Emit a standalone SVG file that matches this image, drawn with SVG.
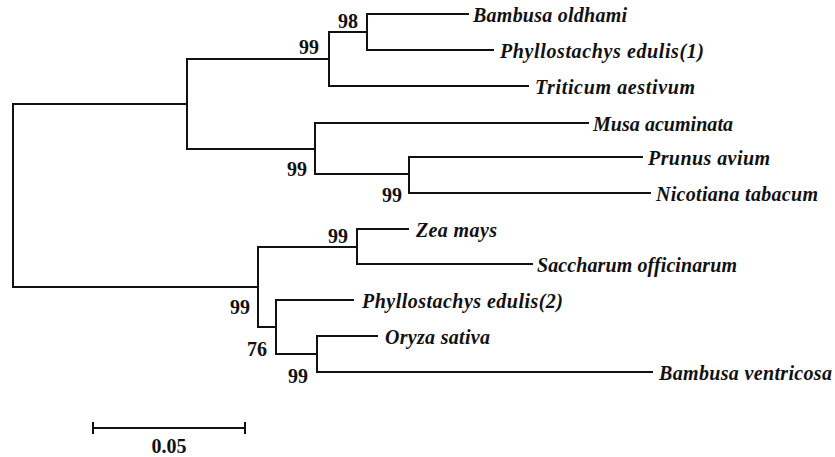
<svg xmlns="http://www.w3.org/2000/svg" width="835" height="457" viewBox="0 0 835 457">
<style>
.e{fill:none;stroke:#111;stroke-width:2;stroke-linecap:square}
.t{font-family:"Liberation Serif","DejaVu Serif",serif;font-style:italic;font-weight:bold;font-size:20px;fill:#111}
.b{font-family:"Liberation Serif","DejaVu Serif",serif;font-weight:bold;font-size:20px;fill:#111;text-anchor:end}
.s{font-family:"Liberation Serif","DejaVu Serif",serif;font-weight:bold;font-size:20px;fill:#111;text-anchor:middle}
</style>
<rect width="835" height="457" fill="#fff"/>
<g id="connectors" class="e">
<path d="M13,104V287"/>
<path d="M13,104H187M187,59V149"/>
<path d="M187,59H329M329,32V86"/>
<path d="M329,32H367M367,14V50"/>
<path d="M367,14H468"/>
<path d="M367,50H493"/>
<path d="M329,86H528"/>
<path d="M187,149H315M315,123V174"/>
<path d="M315,123H588"/>
<path d="M315,174H409M409,157V193"/>
<path d="M409,157H642"/>
<path d="M409,193H650"/>
<path d="M13,287H258M258,247V327"/>
<path d="M258,247H357M357,229V264"/>
<path d="M357,229H408"/>
<path d="M357,264H532"/>
<path d="M258,327H276M276,300V354"/>
<path d="M276,300H353"/>
<path d="M276,354H317M317,336V372"/>
<path d="M317,336H377"/>
<path d="M317,372H652"/>
</g>
<g id="n98"><text class="b" x="358" y="28">98</text></g>
<g id="nB"><text class="b" x="319" y="54">99</text></g>
<g id="nD"><text class="b" x="307" y="176">99</text></g>
<g id="nE"><text class="b" x="402" y="202">99</text></g>
<g id="nG"><text class="b" x="348" y="243">99</text></g>
<g id="nF"><text class="b" x="250" y="314">99</text></g>
<g id="nH"><text class="b" x="267" y="356">76</text></g>
<g id="nI"><text class="b" x="308" y="383">99</text></g>
<g id="bambusa-oldhami"><text class="t" x="473" y="22" textLength="154">Bambusa oldhami</text></g>
<g id="phyllostachys-edulis-1"><text class="t" x="500" y="58" textLength="204">Phyllostachys edulis(1)</text></g>
<g id="triticum-aestivum"><text class="t" x="535" y="94" textLength="160">Triticum aestivum</text></g>
<g id="musa-acuminata"><text class="t" x="593" y="131" textLength="140">Musa acuminata</text></g>
<g id="prunus-avium"><text class="t" x="648" y="165" textLength="122">Prunus avium</text></g>
<g id="nicotiana-tabacum"><text class="t" x="656" y="201" textLength="162">Nicotiana tabacum</text></g>
<g id="zea-mays"><text class="t" x="416" y="237" textLength="81">Zea mays</text></g>
<g id="saccharum-officinarum"><text class="t" x="537" y="272" textLength="200">Saccharum officinarum</text></g>
<g id="phyllostachys-edulis-2"><text class="t" x="362" y="308" textLength="201">Phyllostachys edulis(2)</text></g>
<g id="oryza-sativa"><text class="t" x="385" y="344" textLength="105">Oryza sativa</text></g>
<g id="bambusa-ventricosa"><text class="t" x="659" y="380" textLength="173">Bambusa ventricosa</text></g>
<g id="scale-bar">
<path class="e" d="M93,428H245M93,423V433M245,423V433"/>
<text class="s" x="169" y="453">0.05</text>
</g>
</svg>
